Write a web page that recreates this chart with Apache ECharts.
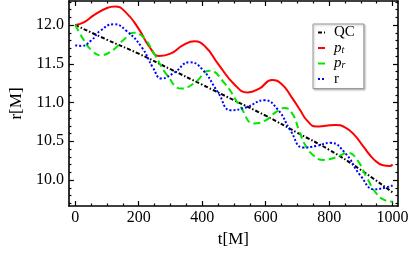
<!DOCTYPE html>
<html>
<head>
<meta charset="utf-8">
<script src="https://cdn.jsdelivr.net/npm/echarts@6/dist/echarts.min.js"></script>
<style>
html,body{margin:0;padding:0;background:#fff;}
#chart{width:415px;height:259px;}
</style>
</head>
<body>
<div id="chart"></div>
<script>
// ---- data ----
const qcT = [0, 100, 200, 300, 400, 500, 600, 700, 800, 900, 1000];
const qcR = [12.00, 11.81, 11.63, 11.43, 11.23, 11.03, 10.83, 10.61, 10.39, 10.13, 9.84];

const ptT = [0, 25, 60, 100, 125, 160, 200, 235, 265, 300, 340, 376, 410, 450, 500, 543, 580, 620, 650, 680, 709, 730, 760, 790, 820, 850, 880, 910, 940, 970, 990, 1000];
const ptR = [12.00, 12.03, 12.13, 12.22, 12.24, 12.16, 11.95, 11.71, 11.60, 11.63, 11.74, 11.79, 11.72, 11.50, 11.24, 11.13, 11.18, 11.29, 11.24, 11.08, 10.90, 10.77, 10.69, 10.70, 10.71, 10.68, 10.58, 10.42, 10.27, 10.19, 10.18, 10.20];

const prT = [0, 25, 50, 80, 120, 150, 185, 215, 250, 290, 335, 375, 423, 470, 520, 563, 600, 630, 660, 685, 705, 725, 750, 782, 820, 860, 890, 920, 950, 975, 1000];
const prR = [12.00, 11.82, 11.68, 11.61, 11.68, 11.80, 11.90, 11.84, 11.62, 11.35, 11.18, 11.25, 11.41, 11.25, 10.95, 10.73, 10.77, 10.87, 10.93, 10.85, 10.64, 10.45, 10.32, 10.26, 10.29, 10.35, 10.25, 10.02, 9.82, 9.74, 9.72];

const rT = [0, 20, 50, 80, 122, 160, 210, 245, 272, 310, 361, 400, 450, 491, 540, 595, 640, 678, 719, 760, 803, 850, 900, 943, 975, 1000];
const rR = [11.74, 11.73, 11.80, 11.93, 12.01, 11.93, 11.71, 11.45, 11.31, 11.38, 11.52, 11.43, 11.13, 10.90, 10.94, 11.03, 10.90, 10.64, 10.42, 10.44, 10.48, 10.35, 10.05, 9.88, 9.90, 9.93];

const xMajorTicks = [0, 200, 400, 600, 800, 1000];
const xMinorTicks = [50, 100, 150, 250, 300, 350, 450, 500, 550, 650, 700, 750, 850, 900, 950];
const yMajorTicks = [10.0, 10.5, 11.0, 11.5, 12.0];
const yMinorTicks = [9.7, 9.8, 9.9, 10.1, 10.2, 10.3, 10.4, 10.6, 10.7, 10.8, 10.9, 11.1, 11.2, 11.3, 11.4, 11.6, 11.7, 11.8, 11.9, 12.1, 12.2, 12.3];

const seriesNames = ['QC', 'pt', 'pr', 'r'];

// ---- chart ----
const X_MIN = -20, X_MAX = 1017, Y_MIN = 9.665, Y_MAX = 12.31;
const FONT = 'Liberation Serif';
const zip = (a, b) => a.map((v, i) => [v, b[i]]);

function xAx(pos, ticks, len, withLabels, showLine) {
  return {
    type: 'value', position: pos, min: X_MIN, max: X_MAX,
    axisLine: {show: showLine, onZero: false, lineStyle: {color: '#000', width: 1.6}},
    axisTick: {show: true, inside: true, length: len, customValues: ticks, lineStyle: {color: '#000', width: 1.2}},
    axisLabel: withLabels ? {show: true, customValues: ticks, color: '#000', fontFamily: FONT, fontSize: 16, margin: 4,
      formatter: v => String(Math.round(v))} : {show: false},
    splitLine: {show: false}
  };
}
function yAx(pos, ticks, len, withLabels, showLine) {
  return {
    type: 'value', position: pos, min: Y_MIN, max: Y_MAX,
    axisLine: {show: showLine, onZero: false, lineStyle: {color: '#000', width: 1.6}},
    axisTick: {show: true, inside: true, length: len, customValues: ticks, lineStyle: {color: '#000', width: 1.2}},
    axisLabel: withLabels ? {show: true, customValues: ticks, color: '#000', fontFamily: FONT, fontSize: 16, margin: 5,
      formatter: v => v.toFixed(1)} : {show: false},
    splitLine: {show: false}
  };
}

const xAxes = [
  xAx('bottom', xMajorTicks, 5, true, true),
  xAx('bottom', xMinorTicks, 2.5, false, false),
  xAx('top', xMajorTicks, 5, false, true),
  xAx('top', xMinorTicks, 2.5, false, false)
];
xAxes[0].name = 't[M]';
xAxes[0].nameLocation = 'middle';
xAxes[0].nameGap = 24;
xAxes[0].nameTextStyle = {color: '#000', fontFamily: FONT, fontSize: 17};

const yAxes = [
  yAx('left', yMajorTicks, 5, true, true),
  yAx('left', yMinorTicks, 2.5, false, false),
  yAx('right', yMajorTicks, 5, false, true),
  yAx('right', yMinorTicks, 2.5, false, false)
];
yAxes[0].name = 'r[M]';
yAxes[0].nameLocation = 'middle';
yAxes[0].nameGap = 42;
yAxes[0].nameRotate = 90;
yAxes[0].nameTextStyle = {color: '#000', fontFamily: FONT, fontSize: 17};

function line(name, t, r, color, type, width) {
  return {
    name: name, type: 'line', xAxisIndex: 0, yAxisIndex: 0,
    data: zip(t, r), showSymbol: false, symbol: 'none',
    smooth: 0.5,
    lineStyle: {color: color, width: width, type: type, cap: 'butt'},
    itemStyle: {color: color},
    animation: false
  };
}

const chart = echarts.init(document.getElementById('chart'), null, {renderer: 'canvas'});
chart.setOption({
  animation: false,
  backgroundColor: '#fff',
  grid: {left: 66.5, right: 17, top: 1, bottom: 53, containLabel: false},
  xAxis: xAxes,
  yAxis: yAxes,
  legend: {
    left: 313, top: 24, orient: 'vertical',
    data: seriesNames,
    itemWidth: 7, itemHeight: 6, itemGap: 0.5,
    padding: [1, 9, 2, 4],
    backgroundColor: '#fff', borderColor: '#9a9a9a', borderWidth: 1,
    shadowColor: 'rgba(0,0,0,0.25)', shadowBlur: 2, shadowOffsetX: 1, shadowOffsetY: 1,
    itemStyle: {opacity: 0},
    formatter: function (n) {
      if (n === 'pt') return '{it|p}{sub|t}';
      if (n === 'pr') return '{it|p}{sub|r}';
      return n;
    },
    textStyle: {
      color: '#000', fontFamily: FONT, fontSize: 15, lineHeight: 14, height: 14, padding: [0, 0, 0, 4],
      rich: {
        it: {fontStyle: 'italic', fontFamily: FONT, fontSize: 15, lineHeight: 14, color: '#000'},
        sub: {fontStyle: 'italic', fontFamily: FONT, fontSize: 10, lineHeight: 14, color: '#000', verticalAlign: 'bottom'}
      }
    }
  },
  series: [
    line('QC', qcT, qcR, '#000000', [4, 2, 1.5, 2], 2),
    line('pt', ptT, ptR, '#ff0000', 'solid', 2),
    line('pr', prT, prR, '#00e600', [7, 4], 2),
    line('r', rT, rR, '#0000ff', [2, 2], 2)
  ]
});
</script>
</body>
</html>
